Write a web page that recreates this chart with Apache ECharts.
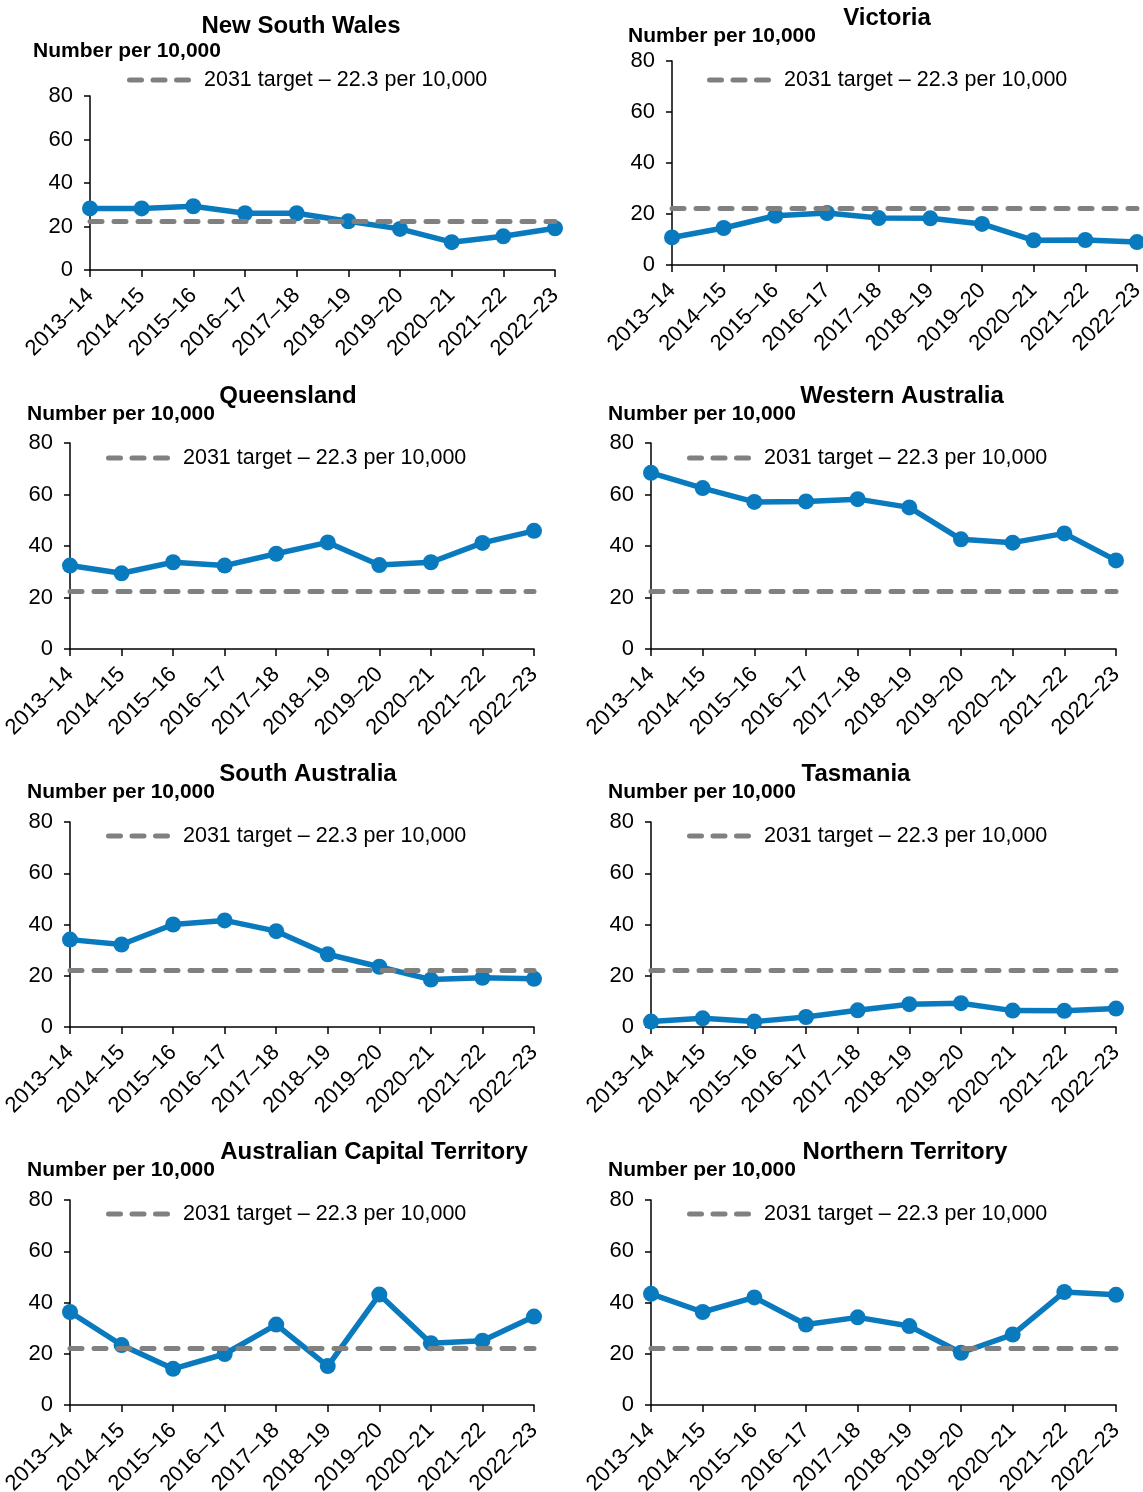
<!DOCTYPE html>
<html>
<head>
<meta charset="utf-8">
<script src="https://cdn.jsdelivr.net/npm/echarts@6/dist/echarts.min.js"></script>
<style>
  html, body { margin: 0; padding: 0; background: #fff; }
  #main { width: 1143px; height: 1492px; }
</style>
</head>
<body>
<div id="main"></div>
<script>
// financial years on the x axis
var categories = ['2013–14', '2014–15', '2015–16', '2016–17', '2017–18',
                  '2018–19', '2019–20', '2020–21', '2021–22', '2022–23'];

// number per 10,000
var nsw = [28.3, 28.3, 29.3, 26.1, 26.1, 22.4, 18.9, 12.8, 15.5, 19.2];
var vic = [10.8, 14.5, 19.3, 20.4, 18.4, 18.3, 16.1, 9.7, 9.8, 9.0];
var qld = [32.4, 29.4, 33.7, 32.4, 37.0, 41.4, 32.6, 33.7, 41.2, 45.9];
var wa  = [68.4, 62.5, 57.1, 57.3, 58.2, 55.0, 42.6, 41.3, 44.9, 34.4];
var sa  = [34.1, 32.2, 40.0, 41.6, 37.4, 28.4, 23.5, 18.5, 19.2, 18.8];
var tas = [2.1, 3.4, 2.1, 3.9, 6.5, 8.9, 9.3, 6.4, 6.3, 7.2];
var act = [36.3, 23.4, 14.1, 19.9, 31.4, 15.2, 43.1, 24.1, 25.1, 34.5];
var nt  = [43.4, 36.3, 42.0, 31.4, 34.2, 30.8, 20.4, 27.5, 44.1, 43.0];

var target = 22.3;
var targetName = '2031 target – 22.3 per 10,000';
var yTicks = [0, 20, 40, 60, 80];
var yName = 'Number per 10,000';

var panels = [
  { name: 'New South Wales', data: nsw },
  { name: 'Victoria', data: vic },
  { name: 'Queensland', data: qld },
  { name: 'Western Australia', data: wa },
  { name: 'South Australia', data: sa },
  { name: 'Tasmania', data: tas },
  { name: 'Australian Capital Territory', data: act },
  { name: 'Northern Territory', data: nt }
];

// where each small chart sits on the page
var layout = [
  { left: 90,  top: 96,   width: 465, height: 174, titleX: 301, titleY: 25,   nameX: 33,  nameY: 50,   legX: 127, legY: 78 },
  { left: 672, top: 61,   width: 465, height: 204, titleX: 887, titleY: 17,   nameX: 628, nameY: 35,   legX: 707, legY: 78 },
  { left: 70,  top: 443,  width: 464, height: 206, titleX: 288, titleY: 395,  nameX: 27,  nameY: 413,  legX: 106, legY: 456 },
  { left: 651, top: 443,  width: 465, height: 206, titleX: 902, titleY: 395,  nameX: 608, nameY: 413,  legX: 687, legY: 456 },
  { left: 70,  top: 822,  width: 464, height: 205, titleX: 308, titleY: 773,  nameX: 27,  nameY: 791,  legX: 106, legY: 834 },
  { left: 651, top: 822,  width: 465, height: 205, titleX: 856, titleY: 773,  nameX: 608, nameY: 791,  legX: 687, legY: 834 },
  { left: 70,  top: 1200, width: 464, height: 205, titleX: 374, titleY: 1151, nameX: 27,  nameY: 1169, legX: 106, legY: 1212 },
  { left: 651, top: 1200, width: 465, height: 205, titleX: 905, titleY: 1151, nameX: 608, nameY: 1169, legX: 687, legY: 1212 }
];

var FONT = "'Liberation Sans', Arial, sans-serif";
var BLUE = '#0a7abf';
var GREY = '#808080';
var DASH = [12, 12];
// three rounded dashes for the legend key
var DASH_ICON = 'path://M2.5,0H14.5A2.5,2.5,0,0,1,14.5,5H2.5A2.5,2.5,0,0,1,2.5,0Z' +
                'M26,0H38A2.5,2.5,0,0,1,38,5H26A2.5,2.5,0,0,1,26,0Z' +
                'M49.5,0H61.5A2.5,2.5,0,0,1,61.5,5H49.5A2.5,2.5,0,0,1,49.5,0Z';

var grid = [], xAxis = [], yAxis = [], series = [], title = [], legend = [];

panels.forEach(function (p, i) {
  var L = layout[i];
  grid.push({
    left: L.left, top: L.top, width: L.width, height: L.height,
    containLabel: false,
    outerBoundsMode: 'none'   // keep the plot box where it is, labels may run to the edge
  });

  xAxis.push({
    type: 'category',
    gridIndex: i,
    data: categories,
    boundaryGap: false,
    axisLine: { lineStyle: { color: '#000', width: 1.5 } },
    axisTick: { show: true, length: 7, lineStyle: { color: '#000', width: 1.5 } },
    axisLabel: { rotate: 45, interval: 0, margin: 22, color: '#000', fontSize: 22, fontFamily: FONT },
    splitLine: { show: false }
  });

  yAxis.push({
    type: 'value',
    gridIndex: i,
    min: yTicks[0],
    max: yTicks[yTicks.length - 1],
    interval: yTicks[1] - yTicks[0],
    axisLine: { show: true, lineStyle: { color: '#000', width: 1.5 } },
    axisTick: { show: true, length: 6, lineStyle: { color: '#000', width: 1.5 } },
    axisLabel: { margin: 17, color: '#000', fontSize: 22, fontFamily: FONT },
    splitLine: { show: false }
  });

  // target line first so the blue line sits on top
  series.push({
    name: targetName,
    type: 'line',
    xAxisIndex: i,
    yAxisIndex: i,
    data: [],
    symbol: 'none',
    silent: true,
    lineStyle: { color: GREY, width: 5, type: DASH, cap: 'round' },
    itemStyle: { color: GREY },
    markLine: {
      silent: true,
      symbol: 'none',
      label: { show: false },
      lineStyle: { color: GREY, width: 5, type: DASH, cap: 'round' },
      data: [{ yAxis: target }]
    },
    z: 2
  });

  series.push({
    name: p.name,
    type: 'line',
    xAxisIndex: i,
    yAxisIndex: i,
    data: p.data,
    symbol: 'circle',
    symbolSize: 16,
    showAllSymbol: true,
    lineStyle: { color: BLUE, width: 5.5 },
    itemStyle: { color: BLUE },
    z: 3
  });

  title.push({
    text: p.name,
    left: L.titleX,
    top: L.titleY + 1,
    textAlign: 'center',
    textVerticalAlign: 'middle',
    padding: 0,
    textStyle: { fontSize: 24, fontWeight: 'bold', color: '#000', fontFamily: FONT }
  });
  title.push({
    text: yName,
    left: L.nameX,
    top: L.nameY + 1,
    textAlign: 'left',
    textVerticalAlign: 'middle',
    padding: 0,
    textStyle: { fontSize: 21, fontWeight: 'bold', color: '#000', fontFamily: FONT }
  });

  legend.push({
    data: [{ name: targetName, icon: DASH_ICON }],
    left: L.legX,
    top: L.legY - 9,
    padding: 0,
    itemWidth: 64,
    itemHeight: 5,
    selectedMode: false,
    itemStyle: { color: GREY, borderWidth: 0 },
    lineStyle: { width: 0 },
    textStyle: { fontSize: 21.5, color: '#000', fontFamily: FONT, padding: [0, 0, 0, 8] }
  });
});

var chart = echarts.init(document.getElementById('main'), null, { renderer: 'canvas' });
chart.setOption({
  backgroundColor: '#fff',
  animation: false,
  title: title,
  legend: legend,
  grid: grid,
  xAxis: xAxis,
  yAxis: yAxis,
  series: series
});
</script>
</body>
</html>
